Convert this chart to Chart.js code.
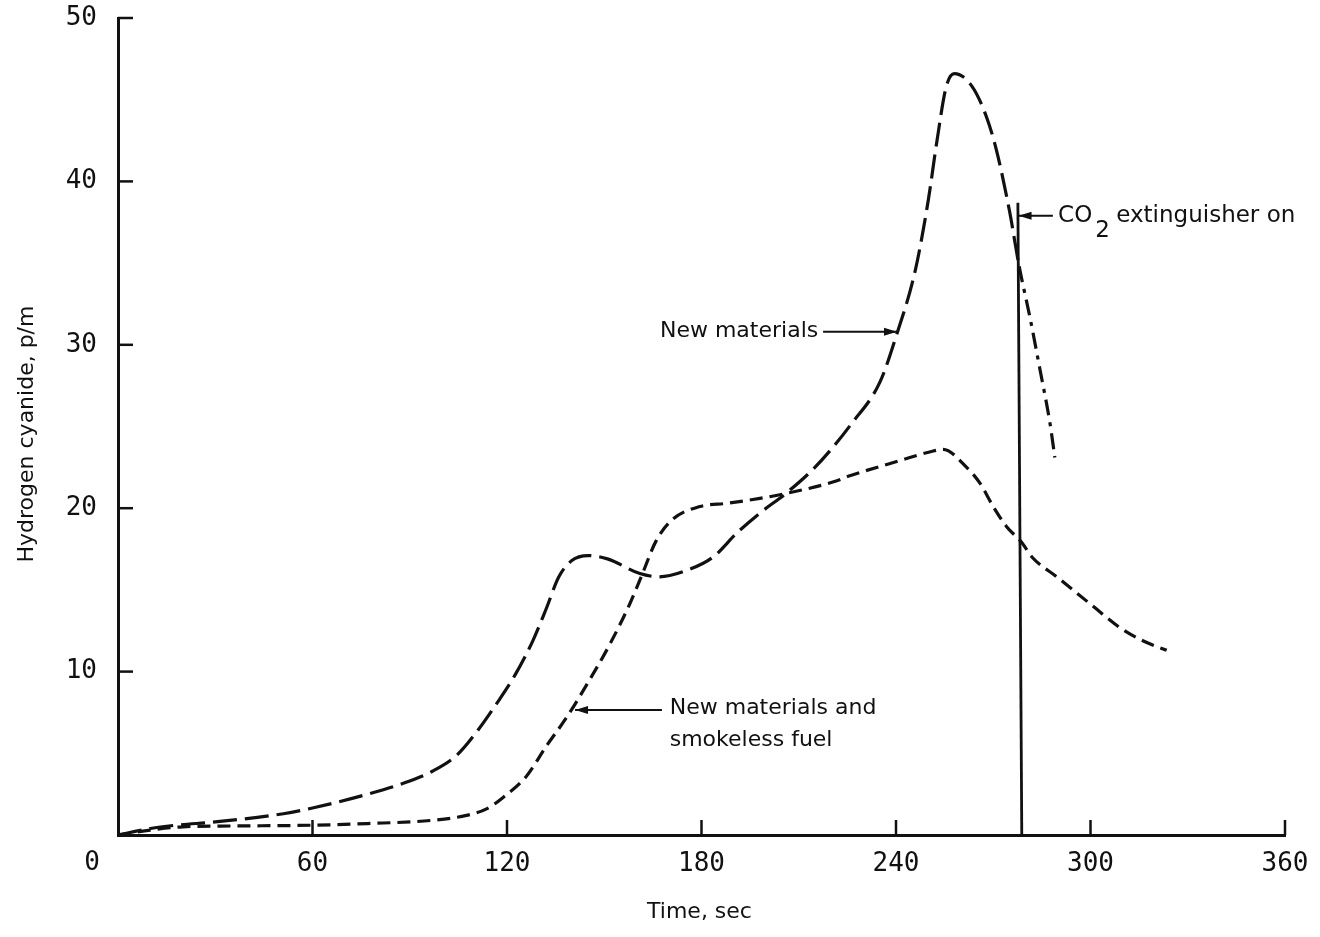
<!DOCTYPE html>
<html>
<head>
<meta charset="utf-8">
<script src="https://cdn.jsdelivr.net/npm/chart.js@4.4.0/dist/chart.umd.min.js"></script>
<style>
  html, body { margin: 0; background: #fff; }
</style>
</head>
<body>
<canvas id="hcn-chart" width="1320" height="937"></canvas>
<script>
// time (sec) vs hydrogen cyanide (p/m)
const newMatTime = [0, 10, 18, 30, 51, 60, 77, 90, 97, 104.6, 110.6, 117, 122.5, 128, 132, 136, 140, 145, 151, 161, 167, 175.5, 183.5, 191, 198, 206, 214, 220, 226, 235, 240, 246, 250, 252.5, 255.5, 258, 263.5, 268, 271, 275, 278, 281.3, 284.4, 287.5, 289];
const newMatHcn  = [0, 0.4, 0.6, 0.8, 1.3, 1.65, 2.5, 3.3, 3.9, 4.9, 6.3, 8.1, 9.8, 11.9, 13.8, 15.8, 16.8, 17.1, 16.9, 16.0, 15.8, 16.2, 17.0, 18.5, 19.7, 20.9, 22.3, 23.6, 25.1, 27.7, 30.5, 34.6, 38.9, 42.3, 45.8, 46.6, 45.8, 43.9, 41.9, 38.2, 34.8, 31.7, 28.5, 25.2, 23.1];

const fuelTime = [0, 10, 20, 35, 60, 77, 97, 107.5, 113.7, 118.8, 126, 132, 138.4, 144.6, 151.8, 158, 161.6, 166, 171, 179.5, 188, 198, 206, 220.5, 226, 241, 251.5, 254.5, 261.8, 266, 270, 274, 278.8, 282, 289.6, 300.8, 309, 316, 323.5];
const fuelHcn  = [0, 0.3, 0.5, 0.55, 0.6, 0.7, 0.9, 1.2, 1.6, 2.3, 3.6, 5.4, 7.2, 9.2, 11.7, 14.2, 15.9, 18.0, 19.3, 20.1, 20.3, 20.6, 20.9, 21.6, 22.0, 22.9, 23.5, 23.6, 22.5, 21.5, 20.1, 18.9, 17.9, 17.0, 15.8, 14.0, 12.7, 11.9, 11.3];

const co2Time = [278.8, 277.6];
const co2Hcn  = [0, 38.7];

const xTicks = [0, 60, 120, 180, 240, 300, 360];
const yTicks = [0, 10, 20, 30, 40, 50];

const ink = '#111';
const toPoints = (xs, ys) => xs.map((t, i) => ({ x: t, y: ys[i] }));

const arrow = (ctx, x1, y1, x2, y2) => {
  ctx.beginPath();
  ctx.moveTo(x1, y1);
  ctx.lineTo(x2, y2);
  ctx.stroke();
  const a = Math.atan2(y2 - y1, x2 - x1);
  ctx.beginPath();
  ctx.moveTo(x2, y2);
  ctx.lineTo(x2 - 13 * Math.cos(a) + 4 * Math.sin(a), y2 - 13 * Math.sin(a) - 4 * Math.cos(a));
  ctx.lineTo(x2 - 13 * Math.cos(a) - 4 * Math.sin(a), y2 - 13 * Math.sin(a) + 4 * Math.cos(a));
  ctx.closePath();
  ctx.fill();
};

const overlay = {
  id: 'overlay',
  afterDraw(chart) {
    const { ctx, scales: { x, y } } = chart;
    const px = v => x.getPixelForValue(v);
    const py = v => y.getPixelForValue(v);
    ctx.save();
    ctx.strokeStyle = ink;
    ctx.fillStyle = ink;
    ctx.lineWidth = 2.5;

    // inward tick marks
    xTicks.forEach(v => {
      if (!v) return;
      ctx.beginPath(); ctx.moveTo(px(v), py(0)); ctx.lineTo(px(v), py(0) - 15); ctx.stroke();
    });
    yTicks.forEach(v => {
      if (!v) return;
      ctx.beginPath(); ctx.moveTo(px(0), py(v)); ctx.lineTo(px(0) + 15, py(v)); ctx.stroke();
    });

    // corner zero
    ctx.font = '26px "DejaVu Sans Mono"';
    ctx.textAlign = 'center';
    ctx.textBaseline = 'middle';
    ctx.fillText('0', px(0) - 26, py(0) + 28);

    // axis titles
    ctx.font = '22px "DejaVu Sans"';
    ctx.fillText('Time, sec', (x.left + x.right) / 2 - 2, 912);
    ctx.save();
    ctx.translate(27, 434);
    ctx.rotate(-Math.PI / 2);
    ctx.font = '22px "DejaVu Sans"';
    ctx.fillText('Hydrogen cyanide, p/m', 0, 0);
    ctx.restore();

    // annotations
    ctx.lineWidth = 2;
    ctx.font = '22px "DejaVu Sans"';
    ctx.textAlign = 'right';
    ctx.fillText('New materials', px(216), py(30.8));
    arrow(ctx, px(217.5), py(30.8), px(240.3), py(30.8));

    ctx.textAlign = 'left';
    ctx.fillText('New materials and', px(170.2), py(7.75));
    ctx.fillText('smokeless fuel', px(170.2), py(5.8));
    arrow(ctx, px(167.8), py(7.65), px(141), py(7.65));

    arrow(ctx, px(288.4), py(37.9), px(277.8), py(37.9));
    ctx.font = '23px "DejaVu Sans"';
    ctx.fillText('CO', px(290), py(37.9));
    const coW = ctx.measureText('CO').width;
    ctx.fillText('2', px(290) + coW + 3, py(37.9) + 15);
    ctx.fillText('extinguisher on', px(290) + coW + 24, py(37.9));
    ctx.restore();
  }
};

new Chart(document.getElementById('hcn-chart'), {
  type: 'line',
  data: {
    datasets: [
      {
        label: 'New materials',
        data: toPoints(newMatTime, newMatHcn),
        borderColor: ink,
        borderWidth: 3.2,
        borderDash: [24, 8],
        cubicInterpolationMode: 'monotone',
        pointRadius: 0,
        segment: {
          borderDash: c => c.p0.parsed.x >= 278 ? [16, 7, 4, 7] : undefined
        }
      },
      {
        label: 'New materials and smokeless fuel',
        data: toPoints(fuelTime, fuelHcn),
        borderColor: ink,
        borderWidth: 3.2,
        borderDash: [13, 7],
        cubicInterpolationMode: 'monotone',
        pointRadius: 0
      },
      {
        label: 'CO2 extinguisher on',
        data: toPoints(co2Time, co2Hcn),
        borderColor: ink,
        borderWidth: 2.8,
        pointRadius: 0
      }
    ]
  },
  options: {
    responsive: false,
    animation: false,
    layout: { padding: { top: 18, right: 35, left: 0, bottom: 0 } },
    plugins: { legend: { display: false }, tooltip: { enabled: false } },
    scales: {
      x: {
        type: 'linear',
        min: 0,
        max: 360,
        afterBuildTicks: s => { s.ticks = xTicks.map(v => ({ value: v })); },
        afterFit: s => { s.height = 102; s.paddingLeft = 0; s.paddingRight = 0; },
        grid: { display: false, drawTicks: false },
        border: { color: ink, width: 3 },
        ticks: {
          padding: 16,
          color: ink,
          font: { family: 'DejaVu Sans Mono', size: 26, lineHeight: 1 },
          callback: v => (v === 0 ? '' : String(v))
        }
      },
      y: {
        min: 0,
        max: 50,
        afterBuildTicks: s => { s.ticks = yTicks.map(v => ({ value: v })); },
        afterFit: s => { s.width = 118; s.paddingTop = 0; s.paddingBottom = 0; },
        grid: { display: false, drawTicks: false },
        border: { color: ink, width: 3 },
        ticks: {
          padding: 21,
          color: ink,
          font: { family: 'DejaVu Sans Mono', size: 26, lineHeight: 1 },
          callback: v => (v === 0 ? '' : String(v))
        }
      }
    }
  },
  plugins: [overlay]
});
</script>
</body>
</html>
